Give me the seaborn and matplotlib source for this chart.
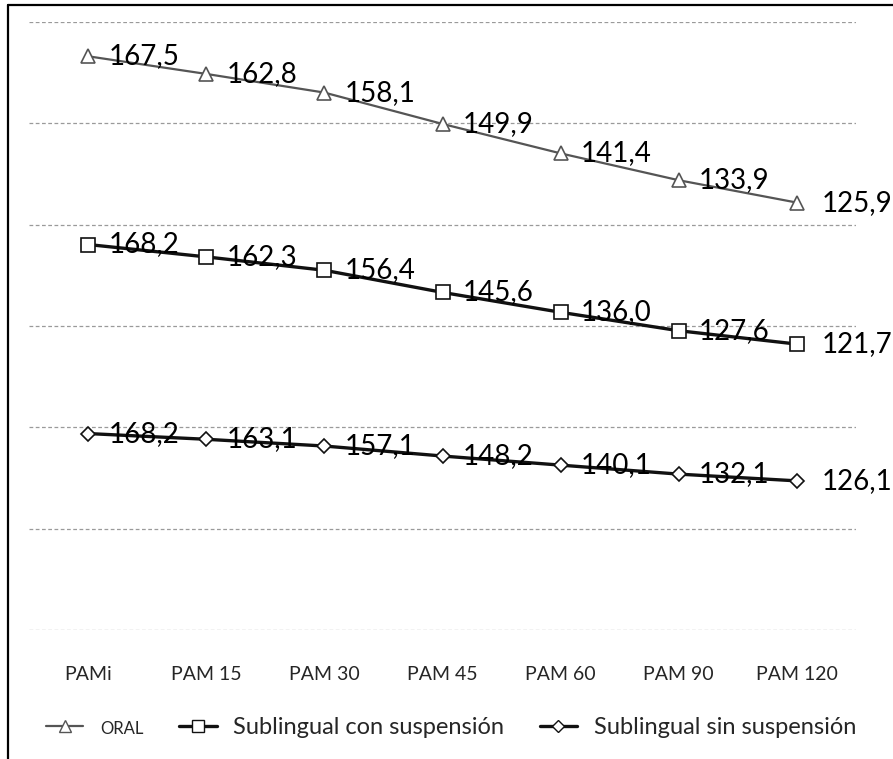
import numpy as np
import pandas as pd
import seaborn as sns
import matplotlib
matplotlib.use("Agg")
import matplotlib.pyplot as plt
from matplotlib.lines import Line2D

# ---- data ----
categories = ["PAMi", "PAM 15", "PAM 30", "PAM 45", "PAM 60", "PAM 90", "PAM 120"]
oral = [167.5, 162.8, 158.1, 149.9, 141.4, 133.9, 125.9]
con_suspension = [168.2, 162.3, 156.4, 145.6, 136.0, 127.6, 121.7]
sin_suspension = [168.2, 163.1, 157.1, 148.2, 140.1, 132.1, 126.1]
series_names = ["ORAL", "Sublingual con suspensión", "Sublingual sin suspensión"]

sns.set_theme(style="white")
plt.rcParams['font.family'] = ['Lato', 'DejaVu Sans']

# stacked line chart (bottom -> top)
stack_order = [("Sublingual sin suspensión", sin_suspension),
               ("Sublingual con suspensión", con_suspension),
               ("ORAL", oral)]
rows = []
cum = np.zeros(len(categories))
for name, vals in stack_order:
    cum = cum + np.array(vals)
    for i, (c, v, t) in enumerate(zip(categories, vals, cum)):
        rows.append(dict(serie=name, idx=i, cat=c, valor=v, acumulado=t))
df = pd.DataFrame(rows)

styles = {
    "ORAL": dict(color="#555555", marker="^", ms=10, lw=1.6),
    "Sublingual con suspensión": dict(color="#111111", marker="s", ms=10, lw=2.4),
    "Sublingual sin suspensión": dict(color="#111111", marker="D", ms=7, lw=2.4),
}

fig = plt.figure(figsize=(8.93, 7.59), dpi=100)
ax = fig.add_axes([29 / 893, 1 - 630 / 759, 827 / 893, 608 / 759])

for name in series_names:
    st = styles[name]
    d = df[df.serie == name]
    sns.lineplot(data=d, x="idx", y="acumulado", ax=ax, color=st["color"],
                 marker=st["marker"], markersize=st["ms"], linewidth=st["lw"],
                 markerfacecolor="white", markeredgecolor=st["color"],
                 markeredgewidth=1.2, legend=False)
    for _, r in d.iterrows():
        off = 18 if r.idx == len(categories) - 1 else 14.5
        ax.annotate(f"{r.valor:.1f}".replace(".", ","), xy=(r.idx, r.acumulado),
                    xytext=(off, 0), textcoords="offset points", ha="left",
                    va="center", fontsize=20, color="black")

lo, hi = -6.6, 534.4
ax.set_ylim(lo, hi)
ax.set_yticks(np.linspace(lo, hi, 7))
ax.set_yticklabels([])
ax.set_xlim(-0.5, 6.5)
ax.set_xticks(range(len(categories)))
ax.set_xticklabels(categories)
ax.tick_params(axis="x", length=0, pad=26, labelsize=14)
ax.tick_params(axis="y", length=0)
ax.set_xlabel("")
ax.set_ylabel("")
ax.yaxis.grid(True, color="#9a9a9a", linestyle=(0, (3, 2)), linewidth=0.9)
ax.xaxis.grid(False)
for s in ax.spines.values():
    s.set_visible(False)

handles = [Line2D([], [], color=styles[n]["color"], marker=styles[n]["marker"],
                  markersize=styles[n]["ms"] * 0.9, lw=styles[n]["lw"],
                  markerfacecolor="white", markeredgecolor=styles[n]["color"])
           for n in series_names]
leg = fig.legend(handles, series_names, loc="center", bbox_to_anchor=(0.505, 0.041),
                 ncol=3, frameon=False, fontsize=17, handlelength=1.6,
                 columnspacing=1.5, handletextpad=0.7)
leg.get_texts()[0].set_fontsize(12)

# page frame (left and top edges of the scanned border)
fig.add_artist(Line2D([8 / 893, 8 / 893], [0, 1 - 5 / 759], transform=fig.transFigure,
                      color="black", lw=1.6))
fig.add_artist(Line2D([8 / 893, 1], [1 - 5 / 759, 1 - 5 / 759], transform=fig.transFigure,
                      color="black", lw=1.6))

fig.savefig("out.png", dpi=100)
